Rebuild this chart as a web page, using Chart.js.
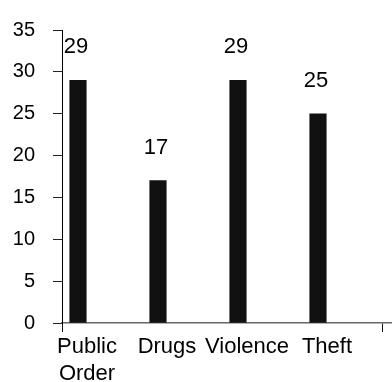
<!DOCTYPE html>
<html>
<head>
<meta charset="utf-8">
<script src="https://cdn.jsdelivr.net/npm/chart.js@4/dist/chart.umd.min.js"></script>
<style>
  html, body { margin: 0; padding: 0; background: #fff; }
  #c { display: block; }
</style>
</head>
<body>
<canvas id="c" width="392" height="382"></canvas>
<script>
// Offence categories and counts
const categories = [['Public', 'Order'], 'Drugs', 'Violence', 'Theft'];
const offenceCounts = [29, 17, 29, 25];
const yTickValues = [0, 5, 10, 15, 20, 25, 30, 35];
// x-axis tick marks sit at the outer edges of the category band
const xEdgeTicks = [-0.2, 3.8];

const FONT = '"Liberation Sans", Arial, Helvetica, sans-serif';

// Writes each count above its bar
const valueLabels = {
  id: 'valueLabels',
  afterDatasetsDraw(chart) {
    const ctx = chart.ctx;
    const meta = chart.getDatasetMeta(0);
    ctx.save();
    ctx.font = '22px ' + FONT;
    ctx.fillStyle = '#000';
    ctx.textAlign = 'center';
    ctx.textBaseline = 'alphabetic';
    meta.data.forEach((bar, i) => {
      ctx.fillText(String(offenceCounts[i]), bar.x - 2, bar.y - 27);
    });
    ctx.restore();
  }
};

new Chart(document.getElementById('c'), {
  type: 'bar',
  data: {
    datasets: [{
      data: offenceCounts.map((v, i) => ({ x: i, y: v })),
      backgroundColor: '#111111',
      borderWidth: 0,
      barThickness: 16.5
    }]
  },
  options: {
    responsive: false,
    devicePixelRatio: 1,
    animation: false,
    layout: { padding: { top: 28, left: 0, right: 0, bottom: 0 } },
    plugins: { legend: { display: false }, tooltip: { enabled: false } },
    scales: {
      x: {
        type: 'linear',
        offset: false,
        min: -0.2,
        max: 3.925,
        afterBuildTicks(scale) {
          scale.ticks = [xEdgeTicks[0], 0, 1, 2, 3, xEdgeTicks[1]].map(v => ({ value: v }));
        },
        afterFit(scale) { scale.height = 59; },
        ticks: {
          autoSkip: false,
          maxRotation: 0,
          minRotation: 0,
          labelOffset: 9,
          padding: 2,
          color: '#000',
          font: { family: FONT, size: 22, lineHeight: 1.2 },
          callback(value) {
            return Number.isInteger(value) && categories[value] !== undefined ? categories[value] : '';
          }
        },
        grid: {
          offset: false,
          drawOnChartArea: false,
          drawTicks: true,
          tickLength: 9,
          lineWidth: 1,
          color(ctx) {
            const v = ctx.tick ? ctx.tick.value : null;
            return xEdgeTicks.includes(v) ? '#111' : 'rgba(0,0,0,0)';
          }
        },
        border: { display: true, color: '#666', width: 1.5 }
      },
      y: {
        min: 0,
        max: 35,
        afterBuildTicks(scale) {
          scale.ticks = yTickValues.map(v => ({ value: v }));
        },
        afterFit(scale) { scale.width = 62; },
        ticks: {
          padding: 18,
          color: '#000',
          font: { family: FONT, size: 20 }
        },
        grid: {
          drawOnChartArea: false,
          drawTicks: true,
          tickLength: 9,
          lineWidth: 1,
          color: '#222'
        },
        border: { display: true, color: '#000', width: 1 }
      }
    }
  },
  plugins: [valueLabels]
});
</script>
</body>
</html>
